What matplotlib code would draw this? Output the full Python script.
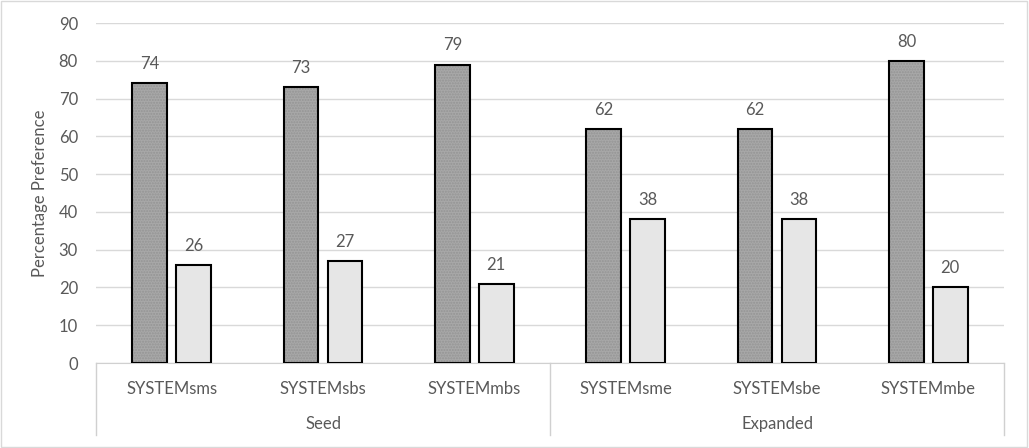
import matplotlib
matplotlib.use("Agg")
import matplotlib.pyplot as plt
import numpy as np

systems = ["SYSTEMsms", "SYSTEMsbs", "SYSTEMmbs", "SYSTEMsme", "SYSTEMsbe", "SYSTEMmbe"]
groups = ["Seed", "Expanded"]
first_pref = [74, 73, 79, 62, 62, 80]
second_pref = [26, 27, 21, 38, 38, 20]

plt.rcParams['font.family'] = ['Lato', 'DejaVu Sans']
txt = '#595959'
fs = 12

fig = plt.figure(figsize=(10.29, 4.48), dpi=100)
ax = fig.add_axes([96 / 1029, 85 / 448, 908 / 1029, 340 / 448])

x = np.arange(len(systems))
w = 0.23
off = 0.145

# dark bars, dotted fill then black outline
ax.bar(x - off, first_pref, w, color='#a8a8a8', hatch='......', edgecolor='#949494', linewidth=0, zorder=2)
ax.bar(x - off, first_pref, w, fill=False, edgecolor='black', linewidth=1.5, zorder=3)
ax.bar(x + off, second_pref, w, color='#e6e6e6', edgecolor='black', linewidth=1.5, zorder=3)

for xi, v in zip(x - off, first_pref):
    ax.annotate(str(v), (xi, v), xytext=(0, 8), textcoords='offset points',
                ha='center', va='bottom', fontsize=fs, color=txt)
for xi, v in zip(x + off, second_pref):
    ax.annotate(str(v), (xi, v), xytext=(0, 8), textcoords='offset points',
                ha='center', va='bottom', fontsize=fs, color=txt)

ax.set_xlim(-0.5, len(systems) - 0.5)
ax.set_ylim(0, 90)
ax.set_yticks(range(0, 91, 10))
ax.tick_params(axis='y', length=0, labelsize=fs, labelcolor=txt, pad=13)
ax.set_xticks([])
ax.grid(axis='y', color='#d9d9d9', linewidth=1, zorder=0)
for s in ['top', 'right', 'left']:
    ax.spines[s].set_visible(False)
ax.spines['bottom'].set_color('#d0d0d0')
ax.set_ylabel("Percentage Preference", fontsize=fs, color=txt, labelpad=8)

# two-level category axis
depth = -72 / 340
for xa in [0, 0.5, 1]:
    ax.plot([xa, xa], [0, depth], transform=ax.transAxes, color='#d0d0d0',
            linewidth=1, clip_on=False)
for xi, name in zip(x, systems):
    ax.text(xi, -26 / 340, name, transform=ax.get_xaxis_transform(),
            ha='center', va='center', fontsize=fs, color=txt)
for i, g in enumerate(groups):
    ax.text(0.25 + 0.5 * i, -61 / 340, g, transform=ax.transAxes,
            ha='center', va='center', fontsize=fs, color=txt)

# chart border
fig.patches.append(plt.Rectangle((0.001, 0.002), 0.997, 0.995, transform=fig.transFigure,
                                 fill=False, edgecolor='#d9d9d9', linewidth=1))

fig.savefig("out.png", dpi=100)
